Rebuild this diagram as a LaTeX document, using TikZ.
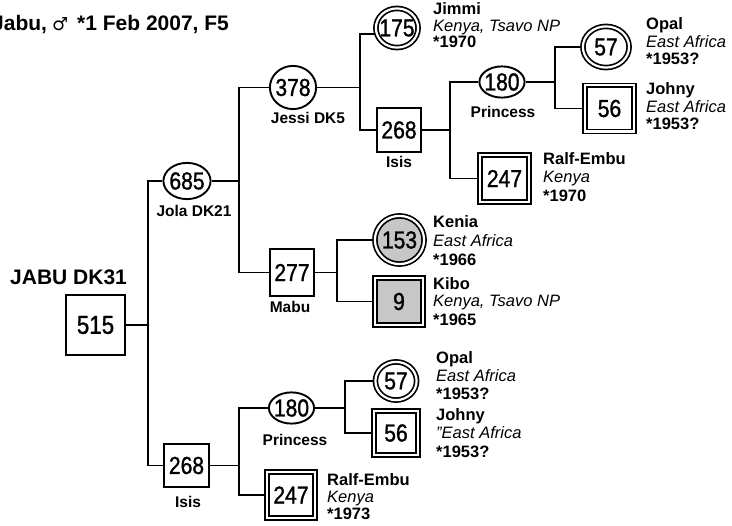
\documentclass[tikz,border=0pt]{standalone}
\usepackage{fontspec}
\setmainfont{Liberation Sans}
\newfontfamily\numfont[FakeStretch=0.86,FakeBold=1.2]{Liberation Sans}
\newfontfamily\symfont{DejaVu Sans}
\usetikzlibrary{shapes.geometric}
\pgfdeclarelayer{paper}
\pgfdeclarelayer{bg}
\pgfsetlayers{paper,bg,main}
\newcommand\zc[1]{\makebox[0pt]{#1}}
\newcommand\infoblock[8]{%
  \node[nm] (#1a) at (#2,#3) {#6};
  \node[pl] (#1b) at (#2,#4) {#7};
  \node[yr] (#1c) at (#2,#5) {#8};}
\begin{document}
\begin{tikzpicture}[x=1pt,y=-1pt,
  numf/.style={font=\fontsize{24.5}{24.5}\selectfont\numfont},
  sbox/.style={rectangle,draw,line width=1.9pt,fill=white,inner sep=0pt,numf},
  dbox/.style={rectangle,draw,line width=1.7pt,double=white,double distance=2.2pt,fill=white,inner sep=0pt,numf},
  scirc/.style={ellipse,draw,line width=1.9pt,fill=white,inner sep=0pt,numf},
  dcirc/.style={ellipse,draw,line width=1.7pt,double=white,double distance=2.2pt,fill=white,inner sep=0pt,numf},
  grey/.style={fill=black!22},
  cn/.style={draw,line width=1.9pt},
  lab/.style={anchor=base,inner sep=0pt,font=\bfseries\fontsize{15.5}{15.5}\selectfont},
  nm/.style={anchor=base west,inner sep=0pt,font=\bfseries\fontsize{16.5}{16.5}\selectfont},
  pl/.style={anchor=base west,inner sep=0pt,font=\itshape\fontsize{16.5}{16.5}\selectfont},
  yr/.style={anchor=base west,inner sep=0pt,font=\bfseries\fontsize{16.5}{16.5}\selectfont}]
\useasboundingbox (0,0) rectangle (732,526);
\begin{pgfonlayer}{paper}
\fill[white] (0,0) rectangle (732,526);
\end{pgfonlayer}

% title
\node[anchor=base west,inner sep=0pt,font=\bfseries\fontsize{21}{21}\selectfont] (title) at (-8,31)
  {Jabu,\hspace{5pt}{\symfont\fontsize{18}{18}\selectfont ♂}\hspace{9pt}*1 Feb 2007, F5};

% proband
\node[anchor=base west,inner sep=0pt,font=\bfseries\fontsize{21}{21}\selectfont] (jabu) at (10,285) {JABU DK31};
\node[sbox,minimum width=59.2pt,minimum height=60.2pt,font=\fontsize{26}{26}\selectfont\numfont] (n515) at (95.5,325) {\zc{515}};

% generation 1
\node[scirc,minimum width=47.2pt,minimum height=36.2pt] (n685) at (187,181) {\zc{685}};
\node[lab] (l685) at (194,217) {Jola DK21};
\node[sbox,minimum width=45.2pt,minimum height=43.2pt] (n268b) at (186.5,465.5) {\zc{268}};
\node[lab] (l268b) at (188,508) {Isis};

% generation 2
\node[scirc,minimum width=46.2pt,minimum height=43.2pt] (n378) at (293,87.5) {\zc{378}};
\node[lab] (l378) at (308,124) {Jessi DK5};
\node[sbox,minimum width=44.2pt,minimum height=47.2pt] (n277) at (292,272.5) {\zc{277}};
\node[lab] (l277) at (290,313) {Mabu};
\node[scirc,minimum width=45.2pt,minimum height=31.2pt] (n180b) at (291.5,408) {\zc{180}};
\node[lab] (l180b) at (295,446) {Princess};
\node[dbox,minimum width=48.2pt,minimum height=46.2pt] (n247b) at (291,495) {\zc{247}};

% generation 3
\node[dcirc,minimum width=42.2pt,minimum height=39.2pt] (n175) at (397,28) {\zc{175}};
\node[sbox,minimum width=44.2pt,minimum height=44.2pt] (n268a) at (399,130) {\zc{268}};
\node[lab] (l268a) at (399,168) {Isis};
\node[dcirc,grey,minimum width=49.2pt,minimum height=48.2pt] (n153) at (399.5,240) {\zc{153}};
\node[dbox,grey,minimum width=48.2pt,minimum height=47.2pt] (n9) at (399,301.5) {\zc{9}};
\node[dcirc,minimum width=41.2pt,minimum height=38.2pt] (n57b) at (396,381) {\zc{57}};
\node[dbox,minimum width=44.2pt,minimum height=44.2pt] (n56b) at (396,433) {\zc{56}};

% generation 4
\node[scirc,minimum width=45.2pt,minimum height=31.2pt] (n180a) at (502,82) {\zc{180}};
\node[lab] (l180a) at (503,118) {Princess};
\node[dbox,minimum width=49.2pt,minimum height=47.2pt] (n247a) at (504.5,178.5) {\zc{247}};
\node[dcirc,minimum width=46.2pt,minimum height=41.2pt] (n57a) at (606,47) {\zc{57}};
\node[dbox,minimum width=49.2pt,minimum height=46.2pt] (n56a) at (609.5,108.5) {\zc{56}};

% info texts
\infoblock{jimmi}{433}{15}{32}{48}{Jimmi}{Kenya, Tsavo NP}{*1970}
\infoblock{opala}{646}{30}{47.5}{65}{Opal}{East Africa}{*1953?}
\infoblock{johnya}{646}{95}{112.5}{130}{Johny}{East Africa}{*1953?}
\infoblock{ralfa}{543}{165}{183}{202}{Ralf-Embu}{Kenya}{*1970}
\infoblock{kenia}{433}{228}{247}{266}{Kenia}{East Africa}{*1966}
\infoblock{kibo}{433}{290}{307}{326}{Kibo}{Kenya, Tsavo NP}{*1965}
\infoblock{opalb}{436}{364}{382}{400}{Opal}{East Africa}{*1953?}
\infoblock{johnyb}{436}{421}{439}{458}{Johny}{"East Africa}{*1953?}
\infoblock{ralfb}{327}{486}{503}{520}{Ralf-Embu}{Kenya}{*1973}

% connectors
\begin{pgfonlayer}{bg}
\coordinate (j1) at (148,325);
\coordinate (j2) at (239,181);
\coordinate (j3) at (360,87.5);
\coordinate (j4) at (450,130);
\coordinate (j5) at (555,82);
\coordinate (j6) at (337,272.5);
\coordinate (j7) at (239,465.5);
\coordinate (j8) at (345,408);
\draw[cn] (n515.east) -- (j1);
\draw[cn] (n685.west) -| (j1) |- (n268b.west);
\draw[cn] (n685.east) -- (j2);
\draw[cn] (n378.west) -| (j2) |- (n277.west);
\draw[cn] (n378.east) -- (j3);
\draw[cn] (n175.195) -| (j3) |- (n268a.west);
\draw[cn] (n268a.east) -- (j4);
\draw[cn] (n180a.west) -| (j4) |- (n247a.west);
\draw[cn] (n180a.east) -- (j5);
\draw[cn] (n57a.west) -| (j5) |- (n56a.west);
\draw[cn] (n277.east) -- (j6);
\draw[cn] (n153.west) -| (j6) |- (n9.west);
\draw[cn] (n268b.east) -- (j7);
\draw[cn] (n180b.west) -| (j7) |- (n247b.west);
\draw[cn] (n180b.east) -- (j8);
\draw[cn] (n57b.west) -| (j8) |- (n56b.west);
\end{pgfonlayer}
\end{tikzpicture}
\end{document}
